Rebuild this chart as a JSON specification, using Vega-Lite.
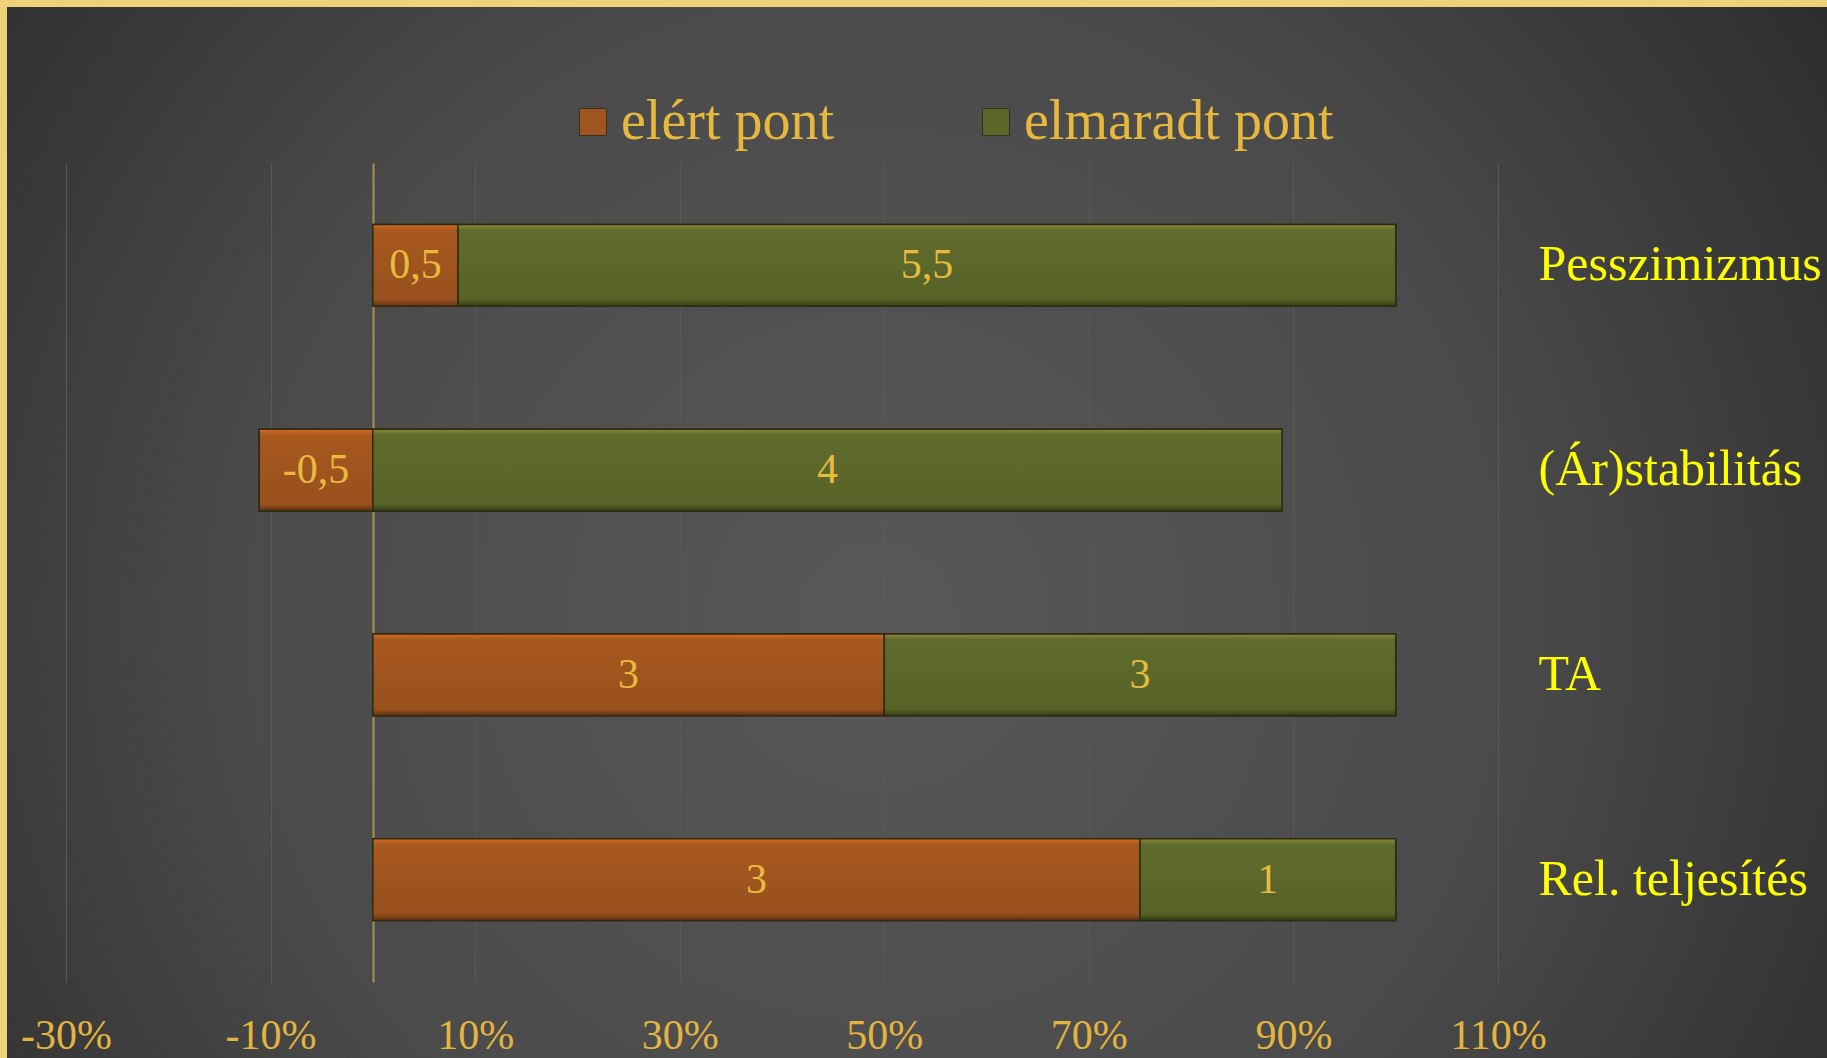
{
  "$schema": "https://vega.github.io/schema/vega-lite/v6.json",
  "width": 1827,
  "height": 1058,
  "autosize": {"type": "none"},
  "padding": 0,
  "background": "#2a2a2a",
  "config": {
    "locale": {"number": {"decimal": ",", "thousands": " ", "grouping": [3], "currency": ["", " Ft"], "minus": "-"}},
    "font": "Liberation Serif",
    "view": {
      "fill": {"gradient": "radial", "x1": 0.48, "y1": 0.55, "r1": 0, "x2": 0.48, "y2": 0.55, "r2": 0.78,
        "stops": [{"offset": 0, "color": "#585858"}, {"offset": 0.45, "color": "#4a4a4a"}, {"offset": 1, "color": "#1c1c1c"}]},
      "stroke": "#EDD27A",
      "strokeWidth": 14,
      "strokeDash": [1827, 2885, 1058, 20]
    }
  },
  "data": {"values": [
    {"indicator": "Pesszimizmus", "series": "elért pont", "points": 0.5, "share": 0.0833},
    {"indicator": "Pesszimizmus", "series": "elmaradt pont", "points": 5.5, "share": 0.9167},
    {"indicator": "(Ár)stabilitás", "series": "elért pont", "points": -0.5, "share": -0.1111},
    {"indicator": "(Ár)stabilitás", "series": "elmaradt pont", "points": 4, "share": 0.8889},
    {"indicator": "TA", "series": "elért pont", "points": 3, "share": 0.5},
    {"indicator": "TA", "series": "elmaradt pont", "points": 3, "share": 0.5},
    {"indicator": "Rel. teljesítés", "series": "elért pont", "points": 3, "share": 0.75},
    {"indicator": "Rel. teljesítés", "series": "elmaradt pont", "points": 1, "share": 0.25}
  ]},
  "encoding": {
    "y": {
      "field": "indicator", "type": "nominal", "sort": null,
      "scale": {"range": [163, 982], "paddingInner": 0.6, "paddingOuter": 0.3},
      "axis": {
        "orient": "right", "offset": -289, "title": null, "domain": false, "ticks": false, "grid": false,
        "labelPadding": 0, "labelAlign": "left", "labelFont": "Liberation Serif", "labelFontSize": 50,
        "labelColor": "#FFFF00", "labelLimit": 400
      }
    },
    "x": {
      "field": "share", "type": "quantitative", "stack": "zero",
      "scale": {"domain": [-0.3, 1.1], "range": [66, 1498], "nice": false, "zero": false},
      "axis": {
        "orient": "top", "offset": -1035, "title": null, "domain": false, "ticks": false,
        "values": [-0.3, -0.1, 0, 0.1, 0.3, 0.5, 0.7, 0.9, 1.1],
        "format": ".0%",
        "labelExpr": "datum.value === 0 ? '' : datum.label",
        "labelFlush": false, "labelOverlap": false, "labelBound": false,
        "labelBaseline": "middle", "labelPadding": 0, "labelFontSize": 42, "labelColor": "#E3B43E",
        "labelFont": "Liberation Serif",
        "grid": true,
        "gridColor": {"condition": {"test": "datum.value === 0", "value": "#A8904E"}, "value": "#5F5A44"},
        "gridWidth": {"condition": {"test": "datum.value === 0", "value": 2}, "value": 1}
      }
    }
  },
  "layer": [
    {
      "mark": {"type": "bar", "stroke": "#2e2a14", "strokeWidth": 1.5},
      "encoding": {
        "color": {
          "field": "series", "type": "nominal",
          "scale": {"domain": ["elért pont", "elmaradt pont"], "range": ["#A0541F", "#5C682A"]},
          "legend": {
            "orient": "none", "legendX": 565, "legendY": 94, "direction": "horizontal", "title": null,
            "symbolType": "square", "symbolSize": 729, "symbolStrokeColor": "#3a3020", "symbolStrokeWidth": 1,
            "symbolOpacity": 1,
            "labelFont": "Liberation Serif", "labelFontSize": 56, "labelColor": "#E6B83E",
            "labelOffset": 0, "columnPadding": 133, "labelLimit": 500, "padding": 0
          }
        },
        "order": {"field": "series", "sort": "descending"}
      }
    },
    {
      "mark": {"type": "bar", "stroke": "#2e2a14", "strokeWidth": 1.5},
      "encoding": {
        "fill": {
          "condition": {
            "test": "datum.series === 'elért pont'",
            "value": {"gradient": "linear", "x1": 0, "y1": 0, "x2": 0, "y2": 1,
              "stops": [{"offset": 0, "color": "#DA6A20"}, {"offset": 0.07, "color": "#A8591F"}, {"offset": 0.5, "color": "#A0541E"}, {"offset": 0.92, "color": "#98501C"}, {"offset": 1, "color": "#5E2F10"}]}
          },
          "value": {"gradient": "linear", "x1": 0, "y1": 0, "x2": 0, "y2": 1,
            "stops": [{"offset": 0, "color": "#8C8A38"}, {"offset": 0.07, "color": "#606C2C"}, {"offset": 0.5, "color": "#5C682A"}, {"offset": 0.92, "color": "#566227"}, {"offset": 1, "color": "#323C10"}]}
        },
        "order": {"field": "series", "sort": "descending"}
      }
    },
    {
      "mark": {"type": "text", "color": "#E8BA40", "fontSize": 42, "font": "Liberation Serif", "baseline": "middle", "align": "center"},
      "encoding": {
        "x": {"field": "share", "type": "quantitative", "stack": "zero", "bandPosition": 0.5},
        "text": {"field": "points", "type": "quantitative", "format": "~g"},
        "detail": {"field": "series"},
        "order": {"field": "series", "sort": "descending"}
      }
    }
  ]
}
